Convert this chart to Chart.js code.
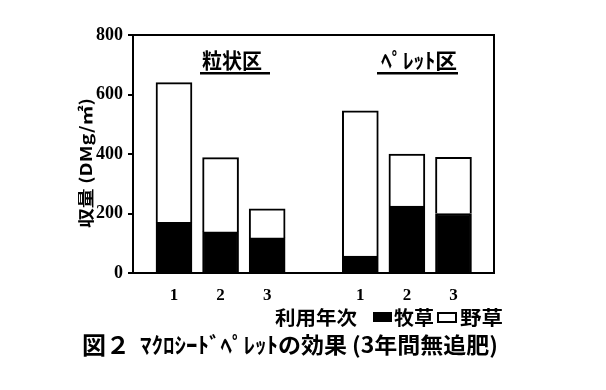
<!DOCTYPE html>
<html><head><meta charset="utf-8">
<script src="https://cdn.jsdelivr.net/npm/chart.js@4/dist/chart.umd.min.js"></script>
<style>html,body{margin:0;padding:0;background:#fff}#wrap{width:606px;height:390px}</style>
</head><body><div id="wrap"><canvas id="c" width="606" height="390"></canvas></div>
<script>
const categories = ['1','2','3','','1','2','3'];
const pasture = [170,138,118,null,57,225,200];   // 牧草
const wild = [470,250,98,null,488,175,189];      // 野草
const yTicks = [0,200,400,600,800];
const groupLabels = ['粒状区','ﾍﾟﾚｯﾄ区'];
const yTitle = '収量 (DMg/㎡)';
const legendLead = '利用年次';
const seriesNames = ['牧草','野草'];
const figTitleNo = '図２';
const figTitle = 'ﾏｸﾛｼｰﾄﾞﾍﾟﾚｯﾄの効果 (3年間無追肥)';

const JP = '"Noto Sans CJK JP", sans-serif';
const NUM = '"Liberation Serif", serif';

function pts(arr){ return arr.map((v,i)=>v==null?null:{x:i,y:v}).filter(p=>p); }

function fitText(ctx, t, x, y, w){
  const m = ctx.measureText(t).width;
  ctx.save(); ctx.translate(x,y); ctx.scale(w/m,1); ctx.textAlign='left';
  ctx.fillText(t,0,0); ctx.restore();
}

const deco = {
  id:'deco',
  afterDraw(chart){
    const {ctx, chartArea:a} = chart;
    ctx.save();
    ctx.strokeStyle='#000'; ctx.lineWidth=2;
    ctx.strokeRect(a.left, a.top, a.right-a.left, a.bottom-a.top);
    ctx.fillStyle='#000';
    ctx.textBaseline='middle';
    // group labels
    ctx.font = 'bold 21px '+JP;
    const g = [[202,262,200,270],[381,457,377,458]];
    groupLabels.forEach((t,i)=>{
      fitText(ctx, t, g[i][0], 60, g[i][1]-g[i][0]);
      ctx.fillRect(g[i][2], 72, g[i][3]-g[i][2], 2.5);
    });
    // y title
    ctx.save();
    ctx.translate(86,163); ctx.rotate(-Math.PI/2);
    ctx.font='bold 16px '+JP;
    fitText(ctx, yTitle, -65, 0, 130);
    ctx.restore();
    // legend
    ctx.font='bold 19px '+JP;
    fitText(ctx, legendLead, 275, 318, 82);
    ctx.fillRect(373,312,19,10);
    fitText(ctx, seriesNames[0], 394, 318, 40);
    ctx.strokeRect(438,313,18,9);
    fitText(ctx, seriesNames[1], 460, 318, 43);
    // title
    ctx.font='bold 24px '+JP;
    fitText(ctx, figTitleNo, 82, 345, 48);
    ctx.font='bold 22px '+JP;
    fitText(ctx, figTitle, 140, 345, 358);
    ctx.restore();
  }
};

new Chart(document.getElementById('c'), {
  type:'bar',
  data:{ datasets:[
    {label:seriesNames[0], data:pts(pasture), backgroundColor:'#000', borderColor:'#000', borderWidth:2, barThickness:36},
    {label:seriesNames[1], data:pts(wild), backgroundColor:'#fff', borderColor:'#000', borderWidth:2, barThickness:36}
  ]},
  options:{
    responsive:false, animation:false,
    layout:{padding:{left:0,top:35,right:112,bottom:0}},
    plugins:{legend:{display:false}, tooltip:{enabled:false}},
    scales:{
      x:{type:'linear', stacked:true, min:-0.88, max:6.87, offset:false,
        afterBuildTicks:s=>{ s.ticks=[0,1,2,4,5,6].map(v=>({value:v})); },
        afterFit:s=>{ s.height=117; },
        grid:{display:false, offset:false}, border:{display:false},
        ticks:{callback:v=>categories[v], color:'#000', padding:4, font:{family:NUM, weight:'bold', size:17}, maxRotation:0, autoSkip:false}
      },
      y:{stacked:true, min:0, max:800,
        afterBuildTicks:s=>{ s.ticks=yTicks.map(v=>({value:v})); },
        afterFit:s=>{ s.width=133; },
        grid:{drawOnChartArea:false, drawTicks:true, tickLength:5, color:'#000', lineWidth:2},
        border:{display:false},
        ticks:{color:'#000', padding:5, font:{family:NUM, weight:'bold', size:18}}
      }
    }
  },
  plugins:[deco]
});
</script></body></html>
